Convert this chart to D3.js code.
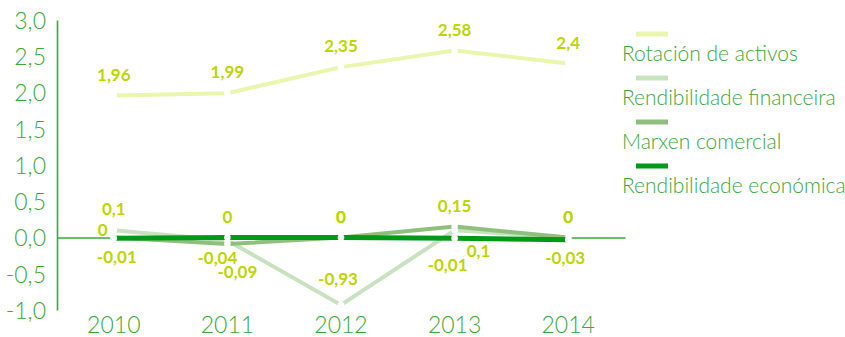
<!DOCTYPE html>
<html>
<head>
<meta charset="utf-8">
<script src="https://cdn.jsdelivr.net/npm/d3@7"></script>
<style>
  html, body { margin: 0; padding: 0; background: #ffffff; }
  svg { display: block; }
  .tick-label, .legend-label { font-family: Lato, "Liberation Sans", sans-serif; font-weight: 300; fill: #3aa83a; }
  .value-label { font-family: Lato, "Liberation Sans", sans-serif; font-weight: bold; fill: #bcd600; }
</style>
</head>
<body>
<svg id="chart" width="845" height="337"></svg>
<script>
// Years on the horizontal axis
const years = ["2010", "2011", "2012", "2013", "2014"];

// Series names, in drawing order (last one on top)
const seriesNames = [
  "Rotación de activos",
  "Rendibilidade financeira",
  "Marxen comercial",
  "Rendibilidade económica"
];

// Values per series
const rotacionActivos        = [1.96, 1.99, 2.35, 2.58, 2.4];
const rendibilidadeFinanceira = [0.1, -0.04, -0.93, 0.1, 0];
const marxenComercial        = [0, -0.09, 0, 0.15, 0];
const rendibilidadeEconomica = [-0.01, 0, 0, -0.01, -0.03];

// Vertical axis ticks
const yTicks = [-1, -0.5, 0, 0.5, 1, 1.5, 2, 2.5, 3];

const seriesValues = [rotacionActivos, rendibilidadeFinanceira, marxenComercial, rendibilidadeEconomica];

// Presentation
const colors = ["#eaf5ad", "#c8e2c0", "#8fbf7c", "#009a17"];
const widths = [4, 4, 4, 5];

// Where each value label sits relative to its point: [dx, dy] of the text centre
const above = [0, -21];
const labelOffsets = [
  [above, above, above, above, above],
  [above, [-10, 17], [-3, -26], [24, 21], above],
  [[-11, -8], [10, 28], above, above, above],
  [[3, 19], above, above, [-7, 27], [-3, 18]]
];

const svg = d3.select("#chart");
const plotLeft = 57, plotRight = 625, plotTop = 20, plotBottom = 310;

const x = d3.scaleBand().domain(years).range([plotLeft, plotRight]);
const y = d3.scaleLinear().domain([-1, 3]).range([plotBottom, plotTop]);
const cx = d => x(d) + x.bandwidth() / 2;

const fmt = v => String(v).replace(".", ",");
const fmtTick = v => d3.format(".1f")(v).replace("−", "-").replace(".", ",");

// Vertical axis line and tick labels
const yAxis = d3.axisLeft(y).tickValues(yTicks).tickSize(0).tickPadding(11).tickFormat(fmtTick);
const gy = svg.append("g").attr("transform", `translate(${plotLeft},0)`).call(yAxis);
gy.attr("font-family", null).attr("font-size", null);
gy.select(".domain").attr("stroke", "#3aa83a").attr("stroke-width", 1.6);
gy.selectAll("text").attr("class", "tick-label").attr("font-size", 23).attr("dy", "0.36em");

// Horizontal axis at zero with year labels below the plot
const xAxis = d3.axisBottom(x).tickSize(0).tickPadding(0);
const gx = svg.append("g").attr("transform", `translate(0,${y(0)})`).call(xAxis);
gx.attr("font-family", null).attr("font-size", null);
gx.select(".domain").attr("stroke", "#3aa83a").attr("stroke-width", 1.6);
gx.selectAll("text").attr("class", "tick-label").attr("font-size", 23)
  .attr("y", plotBottom + 15 - y(0)).attr("dy", "0.36em");
svg.selectAll(".tick-label").attr("fill", "#3aa83a");

// Lines with white point markers
const line = d3.line().x((d, i) => cx(years[i])).y(d => y(d));
seriesValues.forEach((vals, s) => {
  svg.append("path")
    .datum(vals)
    .attr("d", line)
    .attr("fill", "none")
    .attr("stroke", colors[s])
    .attr("stroke-width", widths[s]);
  svg.append("g").selectAll("circle")
    .data(vals)
    .join("circle")
    .attr("cx", (d, i) => cx(years[i]))
    .attr("cy", d => y(d))
    .attr("r", 3.3)
    .attr("fill", "#ffffff");
});

// Value labels
seriesValues.forEach((vals, s) => {
  svg.append("g").selectAll("text")
    .data(vals)
    .join("text")
    .attr("class", "value-label")
    .attr("font-size", 17)
    .attr("text-anchor", "middle")
    .attr("x", (d, i) => cx(years[i]) + labelOffsets[s][i][0])
    .attr("y", (d, i) => y(d) + labelOffsets[s][i][1])
    .attr("dy", "0.36em")
    .text(d => fmt(d));
});

// Legend
const legend = svg.append("g");
seriesNames.forEach((name, s) => {
  const ly = 34 + s * 44;
  legend.append("line")
    .attr("x1", 636).attr("x2", 668)
    .attr("y1", ly).attr("y2", ly)
    .attr("stroke", colors[s]).attr("stroke-width", 5);
  legend.append("text")
    .attr("class", "legend-label")
    .attr("font-size", 21)
    .attr("x", 622)
    .attr("y", ly + 27)
    .text(name);
});
</script>
</body>
</html>
